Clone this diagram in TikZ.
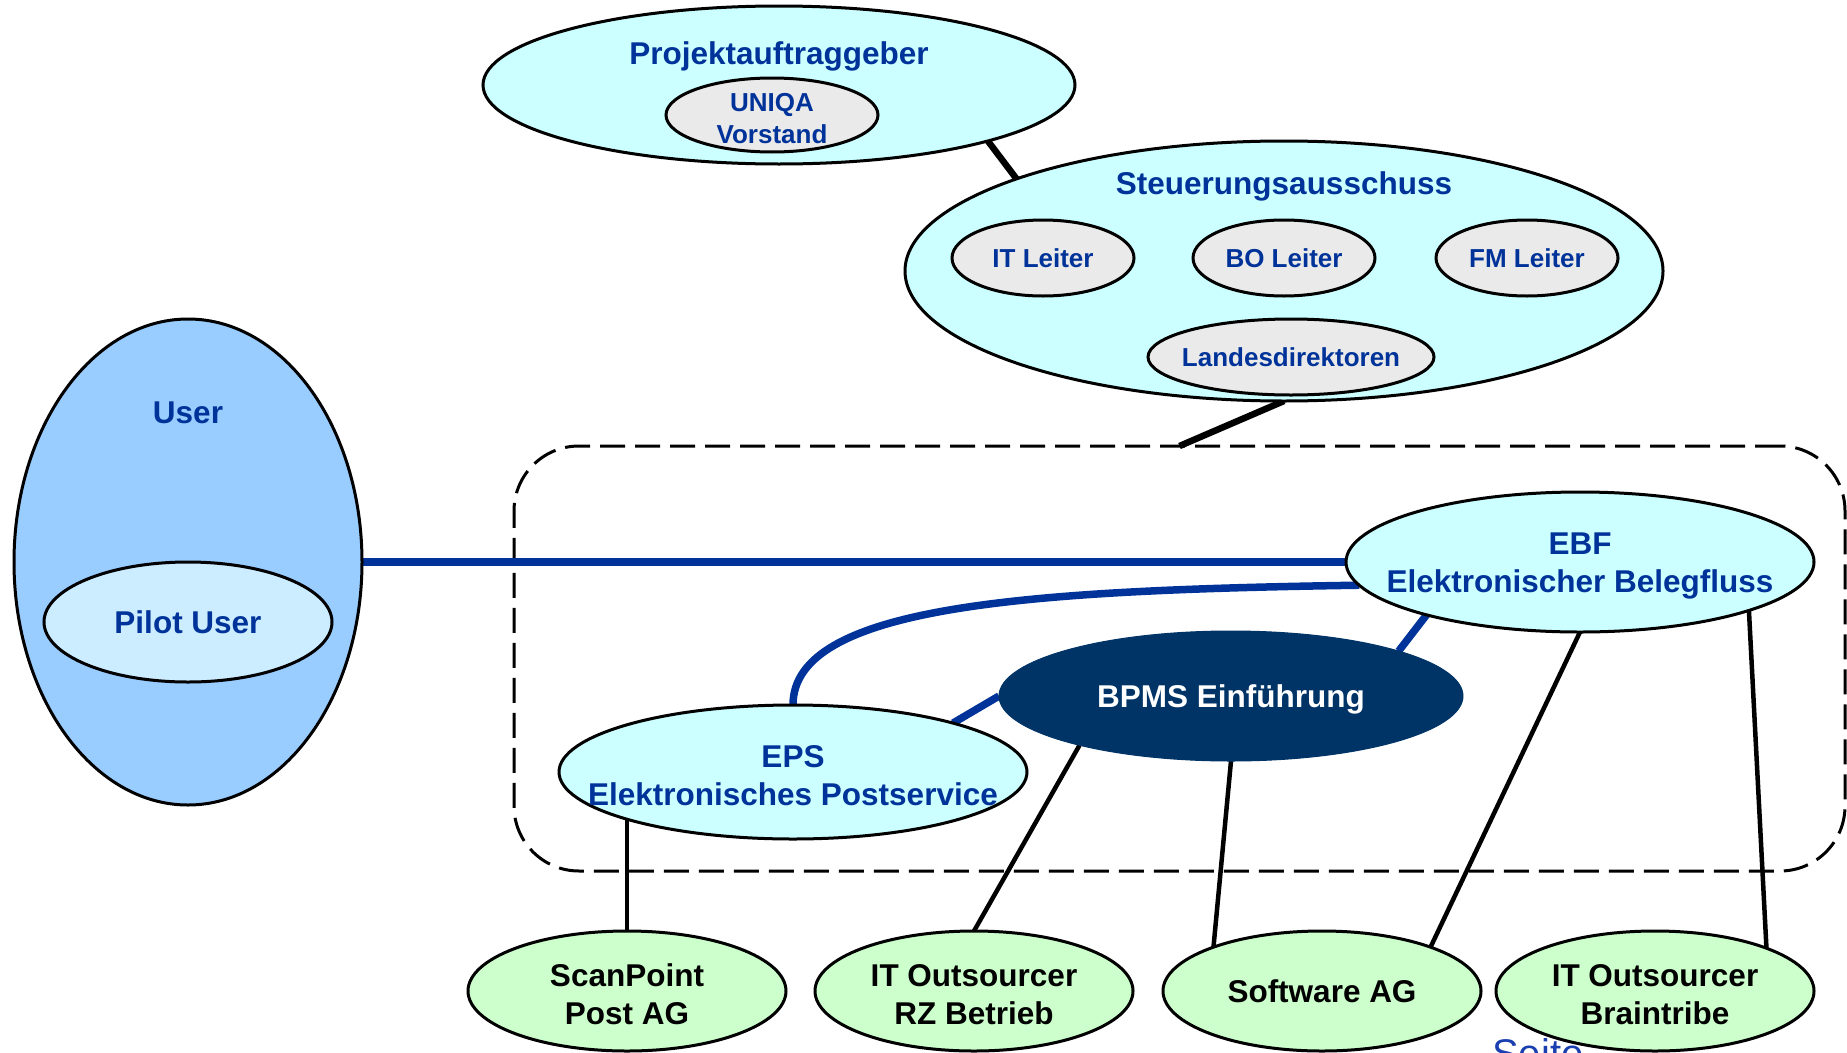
\documentclass[tikz,border=0pt]{standalone}
\usepackage{fontspec}
\setmainfont{Liberation Sans}
\usetikzlibrary{shapes.geometric,backgrounds}
\definecolor{tblue}{HTML}{003399}
\definecolor{lcyan}{HTML}{CCFFFF}
\definecolor{lgrey}{HTML}{EAEAEA}
\definecolor{ublue}{HTML}{99CCFF}
\definecolor{pblue}{HTML}{CCECFF}
\definecolor{lgreen}{HTML}{CCFFCC}
\definecolor{navy}{HTML}{003366}
\definecolor{sblue}{HTML}{1A3FB0}
\begin{document}
\begin{tikzpicture}[x=1pt,y=-1pt,
  ell/.style={ellipse, draw=black, line width=3pt, inner sep=0pt, outer sep=0pt},
  cyanell/.style={ell, fill=lcyan},
  greyell/.style={ell, fill=lgrey},
  greenell/.style={ell, fill=lgreen, minimum width=318pt, minimum height=120pt},
  bigtxt/.style={text=tblue, font=\fontsize{31.5}{38}\selectfont\bfseries, align=center, inner sep=0pt},
  smalltxt/.style={text=tblue, font=\fontsize{26}{32}\selectfont\bfseries, align=center, inner sep=0pt},
  blktxt/.style={text=black, font=\fontsize{31.5}{38}\selectfont\bfseries, align=center, inner sep=0pt},
  dn/.style={yshift=-3.5pt},
  thickblack/.style={line width=6.5pt, black},
  thinblack/.style={line width=4.5pt, black},
  blueline/.style={line width=7.5pt, tblue},
  dashbox/.style={draw=black, line width=3pt, dash pattern=on 25pt off 10pt, rounded corners=65pt, inner sep=0pt, outer sep=0pt},
]
\useasboundingbox (0,0) rectangle (1847,1052);

% footer text (cut by page edge)
\node[anchor=base west, text=sblue, font=\fontsize{40}{48}\selectfont, inner sep=0pt] (seite) at (1492,1067) {Seite};

% Projektauftraggeber
\node[cyanell, minimum width=592pt, minimum height=158pt] (pa) at (779,85) {};
\node[bigtxt, anchor=base] (pat) at (779,64) {Projektauftraggeber};
\node[greyell, minimum width=212pt, minimum height=74pt] (uniqa) at (772,115) {};
\node[smalltxt, dn] (uniqat) at (uniqa) {UNIQA\\Vorstand};

% Steuerungsausschuss
\node[cyanell, minimum width=758pt, minimum height=260pt] (st) at (1284,271) {};
\node[bigtxt, anchor=base] (stt) at (1284,194) {Steuerungsausschuss};
\node[greyell, minimum width=182pt, minimum height=76pt] (itl) at (1043,258) {};
\node[smalltxt] (itlt) at (itl) {IT Leiter};
\node[greyell, minimum width=182pt, minimum height=76pt] (bol) at (1284,258) {};
\node[smalltxt] (bolt) at (bol) {BO Leiter};
\node[greyell, minimum width=182pt, minimum height=76pt] (fml) at (1527,258) {};
\node[smalltxt] (fmlt) at (fml) {FM Leiter};
\node[greyell, minimum width=286pt, minimum height=76pt] (lnd) at (1291,357) {};
\node[smalltxt] (lndt) at (lnd) {Landesdirektoren};

% User
\node[ell, fill=ublue, minimum width=348pt, minimum height=486pt] (user) at (188,562) {};
\node[bigtxt, anchor=base] (usert) at (188,423) {User};
\node[ell, fill=pblue, minimum width=288pt, minimum height=120pt] (pilot) at (188,622) {};
\node[bigtxt] (pilott) at (pilot) {Pilot User};

% Project elements
\node[cyanell, minimum width=468pt, minimum height=140pt] (ebf) at (1580,562) {};
\node[bigtxt, dn] (ebft) at (ebf) {EBF\\Elektronischer Belegfluss};
\node[ellipse, fill=navy, draw=navy, line width=1pt, inner sep=0pt, outer sep=0pt, minimum width=464pt, minimum height=130pt] (bpms) at (1231,696) {};
\node[bigtxt, text=white, dn] (bpmst) at (bpms) {BPMS Einführung};
\node[cyanell, minimum width=468pt, minimum height=134pt] (eps) at (793,772) {};
\node[bigtxt, dn] (epst) at (eps) {EPS\\Elektronisches Postservice};

% Partners
\node[greenell] (scan) at (627,991) {};
\node[blktxt, dn] (scant) at (scan) {ScanPoint\\Post AG};
\node[greenell] (rz) at (974,991) {};
\node[blktxt, dn] (rzt) at (rz) {IT Outsourcer\\RZ Betrieb};
\node[greenell] (sw) at (1322,991) {};
\node[blktxt] (swt) at (sw) {Software AG};
\node[greenell] (bt) at (1655,991) {};
\node[blktxt, dn] (btt) at (bt) {IT Outsourcer\\Braintribe};

\begin{pgfonlayer}{background}
  \node[dashbox, minimum width=1331pt, minimum height=425pt] (proj) at (1179.5,658.5) {};
  \draw[thickblack] (pa.345) -- (st.161);
  \draw[thickblack] (st.south) -- (proj.north);
  \draw[blueline] (user.east) -- (ebf.west);
  \draw[blueline] (ebf.186) .. controls +(-330,5) and +(0,-100) .. (eps.north);
  \draw[blueline] (ebf.199) -- (bpms.15);
  \draw[blueline] (bpms.180) -- (eps.17);
  \draw[thinblack] (scan.north) -- (scan.north |- eps.center);
  \draw[thinblack] (bpms.198) -- (rz.north);
  \draw[thinblack] (bpms.south) -- (sw.158);
  \draw[thinblack] (ebf.south) -- (sw.22);
  \draw[thinblack] (ebf.344) -- (bt.21);
\end{pgfonlayer}
\end{tikzpicture}
\end{document}
